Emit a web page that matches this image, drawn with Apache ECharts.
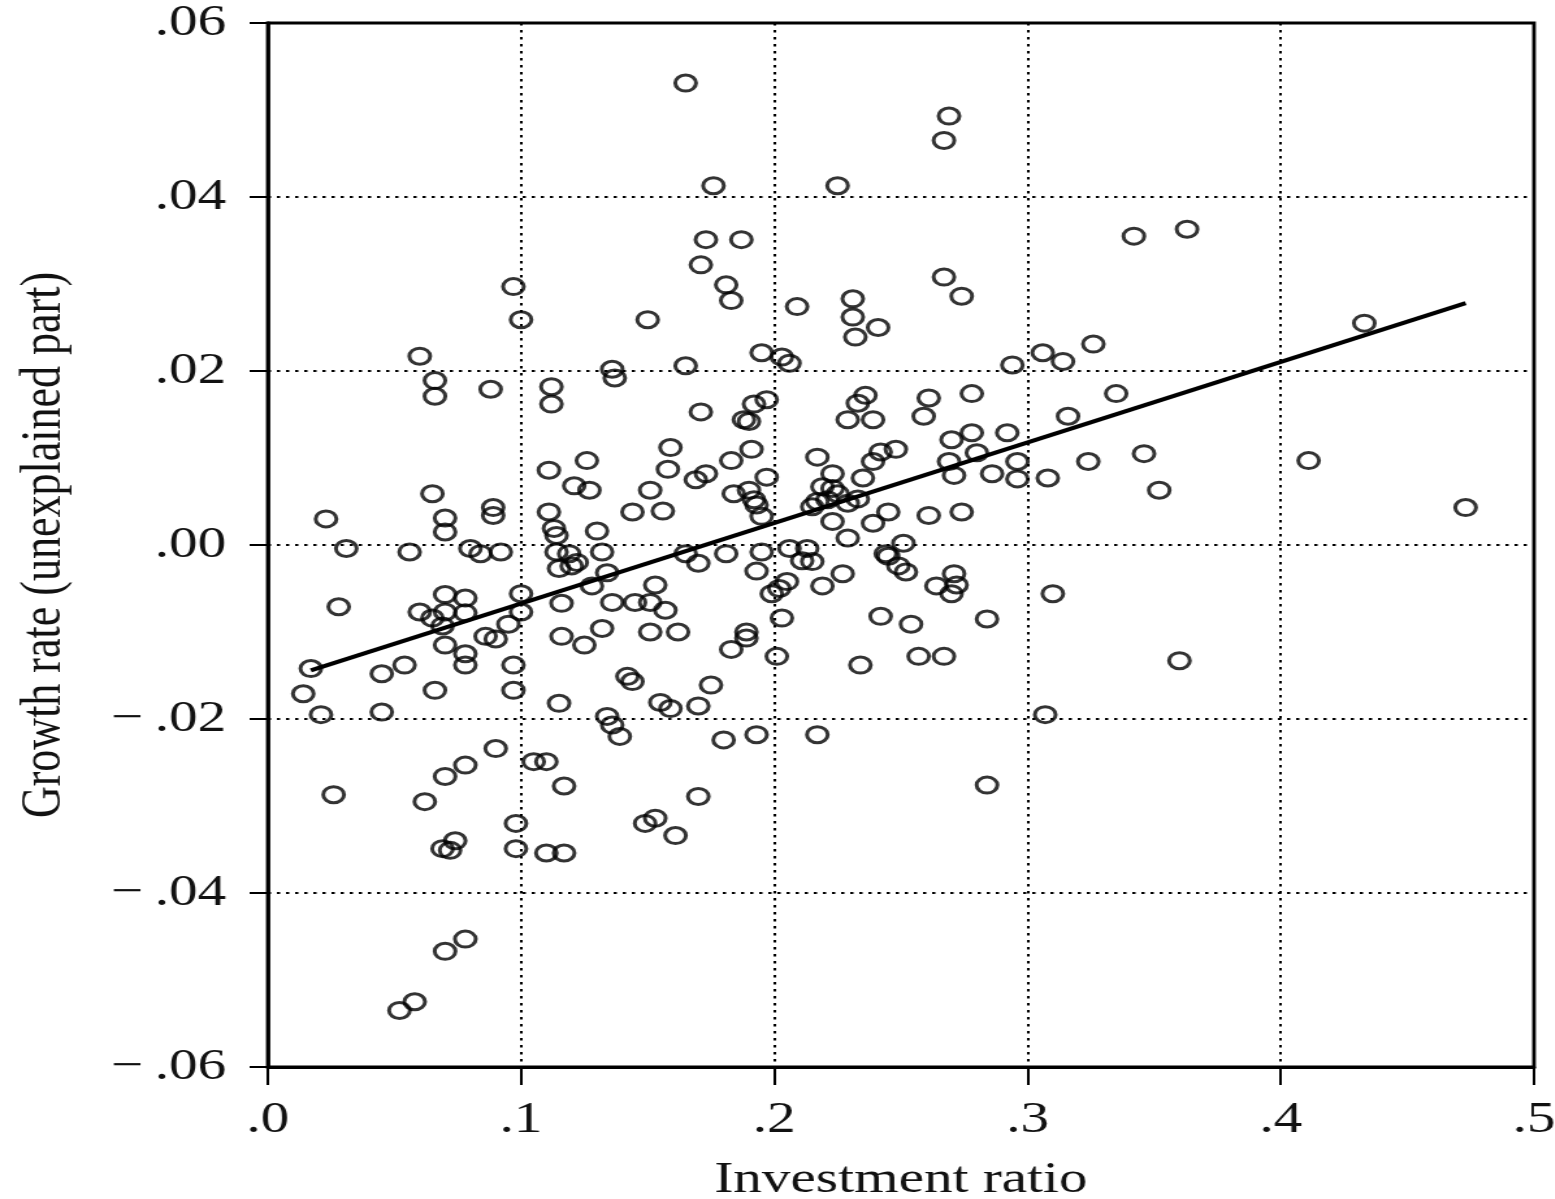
<!DOCTYPE html>
<html>
<head>
<meta charset="utf-8">
<title>Investment ratio and growth</title>
<script src="https://cdn.jsdelivr.net/npm/echarts@6/dist/echarts.min.js"></script>
<style>
  html, body { margin: 0; padding: 0; background: #fff; overflow: hidden; }
  #stage { width: 1555px; height: 1199px; overflow: hidden; }
  /* the figure is drawn narrow and widened, giving the stretched print look */
  #chart { width: 1196px; height: 1199px; transform: scaleX(1.3); transform-origin: 0 0; }
</style>
</head>
<body>
<div id="stage"><div id="chart"></div></div>
<script>
// [investment ratio, growth rate residual] for each country
const countryPoints = [
  [0.165, 0.0531], [0.269, 0.0493], [0.267, 0.0465], [0.176, 0.0413], [0.225, 0.0413],
  [0.173, 0.0351], [0.187, 0.0351], [0.171, 0.0322], [0.181, 0.0299], [0.183, 0.0281],
  [0.267, 0.0308], [0.274, 0.0286], [0.209, 0.0274], [0.231, 0.0283], [0.231, 0.0262],
  [0.241, 0.0250], [0.232, 0.0239], [0.097, 0.0297], [0.100, 0.0259], [0.150, 0.0259],
  [0.060, 0.0217], [0.136, 0.0202], [0.137, 0.0192], [0.165, 0.0206], [0.066, 0.0189],
  [0.066, 0.0171], [0.088, 0.0179], [0.112, 0.0182], [0.112, 0.0162], [0.195, 0.0221],
  [0.203, 0.0216], [0.206, 0.0209], [0.294, 0.0207], [0.306, 0.0221], [0.314, 0.0211],
  [0.326, 0.0231], [0.342, 0.0355], [0.363, 0.0363], [0.433, 0.0255], [0.335, 0.0174],
  [0.171, 0.0153], [0.192, 0.0162], [0.197, 0.0167], [0.188, 0.0144], [0.190, 0.0142],
  [0.236, 0.0172], [0.233, 0.0163], [0.229, 0.0144], [0.239, 0.0144], [0.261, 0.0169],
  [0.259, 0.0148], [0.278, 0.0174], [0.316, 0.0148], [0.159, 0.0112], [0.158, 0.0087],
  [0.126, 0.0097], [0.111, 0.0086], [0.121, 0.0068], [0.127, 0.0063], [0.151, 0.0063],
  [0.144, 0.0038], [0.156, 0.0039], [0.065, 0.0059], [0.023, 0.0030], [0.070, 0.0031],
  [0.070, 0.0015], [0.089, 0.0043], [0.089, 0.0034], [0.111, 0.0038], [0.113, 0.0019],
  [0.114, 0.0011], [0.130, 0.0016], [0.191, 0.0110], [0.183, 0.0097], [0.173, 0.0082],
  [0.169, 0.0075], [0.197, 0.0078], [0.184, 0.0059], [0.190, 0.0063], [0.192, 0.0052],
  [0.193, 0.0046], [0.195, 0.0033], [0.217, 0.0101], [0.223, 0.0082], [0.235, 0.0077],
  [0.239, 0.0096], [0.242, 0.0107], [0.248, 0.0110], [0.219, 0.0067], [0.223, 0.0065],
  [0.225, 0.0059], [0.217, 0.0050], [0.221, 0.0052], [0.215, 0.0044], [0.229, 0.0048],
  [0.233, 0.0053], [0.223, 0.0027], [0.229, 0.0008], [0.239, 0.0025], [0.245, 0.0038],
  [0.251, 0.0002], [0.261, 0.0034], [0.274, 0.0038], [0.270, 0.0121], [0.278, 0.0129],
  [0.292, 0.0129], [0.280, 0.0106], [0.269, 0.0096], [0.271, 0.0080], [0.286, 0.0082],
  [0.296, 0.0096], [0.296, 0.0076], [0.308, 0.0077], [0.324, 0.0096], [0.346, 0.0105],
  [0.352, 0.0063], [0.411, 0.0097], [0.473, 0.0043],
  [0.031, -0.0004], [0.056, -0.0008], [0.080, -0.0004], [0.084, -0.0010], [0.092, -0.0008],
  [0.114, -0.0008], [0.119, -0.0010], [0.132, -0.0008], [0.165, -0.0010], [0.181, -0.0010],
  [0.195, -0.0008], [0.206, -0.0004], [0.213, -0.0004], [0.211, -0.0018], [0.215, -0.0019],
  [0.244, -0.0010], [0.115, -0.0027], [0.120, -0.0024], [0.122, -0.0020], [0.134, -0.0032],
  [0.128, -0.0047], [0.153, -0.0046], [0.170, -0.0021], [0.193, -0.0030], [0.199, -0.0056],
  [0.202, -0.0050], [0.205, -0.0042], [0.219, -0.0047], [0.227, -0.0033], [0.245, -0.0013],
  [0.249, -0.0024], [0.252, -0.0031], [0.264, -0.0047], [0.271, -0.0033], [0.272, -0.0046],
  [0.270, -0.0056], [0.310, -0.0056],
  [0.100, -0.0056], [0.100, -0.0077], [0.095, -0.0091], [0.028, -0.0071], [0.060, -0.0077],
  [0.070, -0.0057], [0.070, -0.0077], [0.065, -0.0084], [0.069, -0.0093], [0.078, -0.0061],
  [0.078, -0.0078], [0.070, -0.0115], [0.078, -0.0125], [0.078, -0.0138], [0.086, -0.0105],
  [0.090, -0.0108], [0.097, -0.0138], [0.097, -0.0167], [0.017, -0.0142], [0.014, -0.0171],
  [0.021, -0.0195], [0.045, -0.0148], [0.054, -0.0138], [0.066, -0.0167], [0.045, -0.0192],
  [0.116, -0.0067], [0.136, -0.0066], [0.145, -0.0066], [0.151, -0.0066], [0.157, -0.0075],
  [0.132, -0.0096], [0.116, -0.0105], [0.125, -0.0115], [0.151, -0.0100], [0.162, -0.0100],
  [0.142, -0.0151], [0.144, -0.0157], [0.115, -0.0182], [0.155, -0.0181], [0.159, -0.0188],
  [0.170, -0.0185], [0.134, -0.0197], [0.136, -0.0207], [0.139, -0.0220], [0.090, -0.0234],
  [0.078, -0.0253], [0.070, -0.0266], [0.105, -0.0249], [0.110, -0.0249], [0.117, -0.0277],
  [0.026, -0.0287], [0.062, -0.0295], [0.098, -0.0320], [0.098, -0.0349], [0.153, -0.0314],
  [0.149, -0.0320], [0.161, -0.0334], [0.170, -0.0289], [0.074, -0.0340], [0.069, -0.0349],
  [0.072, -0.0351], [0.110, -0.0354], [0.117, -0.0354], [0.078, -0.0453], [0.070, -0.0467],
  [0.058, -0.0525], [0.052, -0.0535],
  [0.203, -0.0084], [0.242, -0.0082], [0.254, -0.0091], [0.284, -0.0085], [0.189, -0.0100],
  [0.189, -0.0107], [0.183, -0.0120], [0.201, -0.0128], [0.234, -0.0138], [0.257, -0.0128],
  [0.267, -0.0128], [0.175, -0.0161], [0.307, -0.0195], [0.180, -0.0224], [0.193, -0.0218],
  [0.217, -0.0218], [0.284, -0.0276], [0.360, -0.0133]
];

// least-squares line, drawn between its two end points
const fitLine = [[0.017, -0.0144], [0.473, 0.0278]];

const xTickLabels = ['.0', '.1', '.2', '.3', '.4', '.5'];
const yTickLabels = ['\u2212\u2009.06', '\u2212\u2009.04', '\u2212\u2009.02', '.00', '.02', '.04', '.06'];

const serif = '"Liberation Serif", "DejaVu Serif", serif';
const ink = '#111';

const chart = echarts.init(document.getElementById('chart'));
chart.setOption({
  animation: false,
  backgroundColor: '#fff',
  grid: {
    left: 206, right: 16, top: 23, bottom: 132,
    show: true, borderColor: '#000', borderWidth: 2.8,
    containLabel: false, outerBoundsMode: 'none'
  },
  xAxis: {
    type: 'value', min: 0, max: 0.5, interval: 0.1,
    axisLine: { show: true, onZero: false, lineStyle: { color: '#000', width: 2.8 } },
    axisTick: { show: true, length: 18, lineStyle: { color: '#000', width: 2 } },
    axisLabel: {
      margin: 31, fontSize: 44, fontFamily: serif, color: ink,
      formatter: v => xTickLabels[Math.round(v * 10)]
    },
    splitLine: { show: true, lineStyle: { type: [2.5, 4.5], color: '#000', width: 2 } },
    name: 'Investment ratio', nameLocation: 'middle', nameGap: 91,
    nameTextStyle: { fontSize: 44, fontFamily: serif, color: ink }
  },
  yAxis: {
    type: 'value', min: -0.06, max: 0.06, interval: 0.02,
    axisLine: { show: true, onZero: false, lineStyle: { color: '#000', width: 2.8 } },
    axisTick: { show: true, length: 14, lineStyle: { color: '#000', width: 2 } },
    axisLabel: {
      margin: 32, fontSize: 44, fontFamily: serif, color: ink,
      formatter: v => yTickLabels[Math.round((v + 0.06) / 0.02)]
    },
    splitLine: { show: true, lineStyle: { type: [2.5, 4.5], color: '#000', width: 2 } },
    name: 'Growth rate (unexplained part)', nameLocation: 'middle', nameGap: 150,
    nameTextStyle: { fontSize: 44, fontFamily: serif, color: ink }
  },
  series: [
    {
      type: 'scatter',
      data: countryPoints,
      symbol: 'circle',
      symbolSize: 16,
      silent: true,
      itemStyle: { color: 'rgba(255,255,255,0)', borderColor: '#000', borderWidth: 3 },
      z: 2
    },
    {
      type: 'line',
      data: fitLine,
      showSymbol: false,
      silent: true,
      lineStyle: { color: '#000', width: 4 },
      z: 3
    }
  ]
});
</script>
</body>
</html>
